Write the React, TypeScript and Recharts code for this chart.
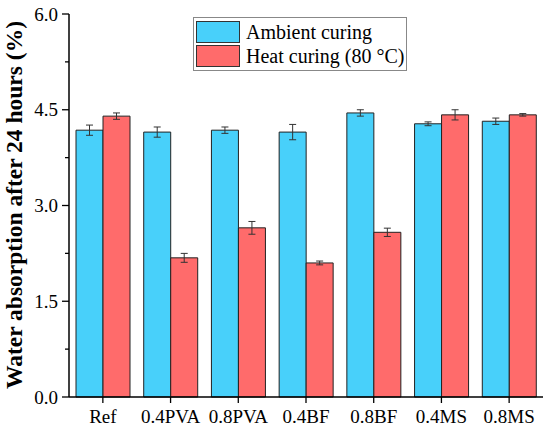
import React from "react";
import {
  BarChart, Bar, XAxis, YAxis, Legend, ErrorBar,
} from "recharts";

const categories = ["Ref", "0.4PVA", "0.8PVA", "0.4BF", "0.8BF", "0.4MS", "0.8MS"];
const ambient = [4.18, 4.15, 4.18, 4.15, 4.45, 4.28, 4.32];
const ambientErr = [0.08, 0.08, 0.05, 0.12, 0.05, 0.03, 0.05];
const heat = [4.4, 2.18, 2.65, 2.1, 2.58, 4.42, 4.42];
const heatErr = [0.05, 0.07, 0.1, 0.03, 0.065, 0.08, 0.02];
const yTicks = [0, 0.75, 1.5, 2.25, 3, 3.75, 4.5, 5.25, 6];
const majorTicks = [0, 1.5, 3, 4.5, 6];

const data = categories.map((name, i) => ({
  name,
  ambient: ambient[i],
  ambientErr: ambientErr[i],
  heat: heat[i],
  heatErr: heatErr[i],
}));

const FONT = "Liberation Serif, DejaVu Serif, serif";
const BLUE = "#48D0FA";
const RED = "#FF6B6B";

// y ticks: long outward ticks with labels on the majors, short ones between
function YTick(props: any) {
  const { x, y, payload } = props;
  const axisX = x + 11;
  const major = majorTicks.includes(payload.value);
  return (
    <g>
      <line x1={axisX - (major ? 7 : 4)} y1={y} x2={axisX} y2={y} stroke="#000" strokeWidth={1.3} />
      {major && (
        <text x={x} y={y} dy="0.35em" textAnchor="end" style={{ fontFamily: FONT }} fontSize={19} fill="#000">
          {payload.value.toFixed(1)}
        </text>
      )}
    </g>
  );
}

function YLabel() {
  return (
    <text
      x={22}
      y={205}
      transform="rotate(-90, 22, 205)"
      textAnchor="middle"
      style={{ fontFamily: FONT }}
      fontWeight="bold"
      fontSize={23.5}
      fill="#000"
    >
      Water absorption after 24 hours (%)
    </text>
  );
}

function LegendBox({ payload }: any) {
  return (
    <div
      style={{
        border: "1px solid #888",
        background: "#fff",
        width: 210,
        padding: "2px 0 2px 2px",
        fontFamily: FONT,
        fontSize: 20,
        lineHeight: "22px",
      }}
    >
      {(payload || []).map((p: any) => (
        <div key={p.value} style={{ display: "flex", alignItems: "center", height: 24 }}>
          <span
            style={{
              display: "inline-block",
              width: 42,
              height: 20,
              background: p.color,
              border: "1px solid #333",
              marginRight: 6,
            }}
          />
          <span style={{ color: "#000" }}>{p.value}</span>
        </div>
      ))}
    </div>
  );
}

export default function App() {
  return (
    <div style={{ position: "absolute", left: 0, top: 0, background: "#fff", fontFamily: FONT }}>
      <BarChart
        width={550}
        height={431}
        data={data}
        margin={{ top: 14, right: 7, bottom: 0, left: 0 }}
        barGap={0}
        barSize={27}
        style={{ fontFamily: FONT }}
      >
        <XAxis
          dataKey="name"
          height={34}
          tickSize={6}
          tickMargin={7}
          axisLine={{ stroke: "#000", strokeWidth: 1.5 }}
          tickLine={{ stroke: "#000", strokeWidth: 1.3 }}
          tick={{ fill: "#000", fontFamily: FONT, fontSize: 19 }}
          interval={0}
        />
        <XAxis
          xAxisId="top"
          dataKey="name"
          orientation="top"
          height={0}
          tick={false}
          tickLine={false}
          axisLine={{ stroke: "#bbb", strokeWidth: 1 }}
        />
        <YAxis
          width={69}
          domain={[0, 6]}
          ticks={yTicks}
          tickSize={7}
          tickMargin={4}
          tickLine={false}
          axisLine={{ stroke: "#000", strokeWidth: 1.5 }}
          tick={<YTick />}
          interval={0}
          label={{ content: <YLabel /> }}
        />
        <YAxis
          yAxisId="right"
          orientation="right"
          width={0}
          domain={[0, 6]}
          tick={false}
          tickLine={false}
          axisLine={{ stroke: "#bbb", strokeWidth: 1 }}
        />
        <Legend
          layout="vertical"
          align="center"
          verticalAlign="middle"
          wrapperStyle={{ position: "absolute", left: 193, top: 17, width: "auto" }}
          content={<LegendBox />}
        />
        <Bar dataKey="ambient" name="Ambient curing" fill={BLUE} stroke="#222" strokeWidth={1} isAnimationActive={false}>
          <ErrorBar dataKey="ambientErr" width={3.5} stroke="#333" strokeWidth={1} isAnimationActive={false} />
        </Bar>
        <Bar dataKey="heat" name="Heat curing (80 °C)" fill={RED} stroke="#222" strokeWidth={1} isAnimationActive={false}>
          <ErrorBar dataKey="heatErr" width={3.5} stroke="#333" strokeWidth={1} isAnimationActive={false} />
        </Bar>
      </BarChart>
    </div>
  );
}
